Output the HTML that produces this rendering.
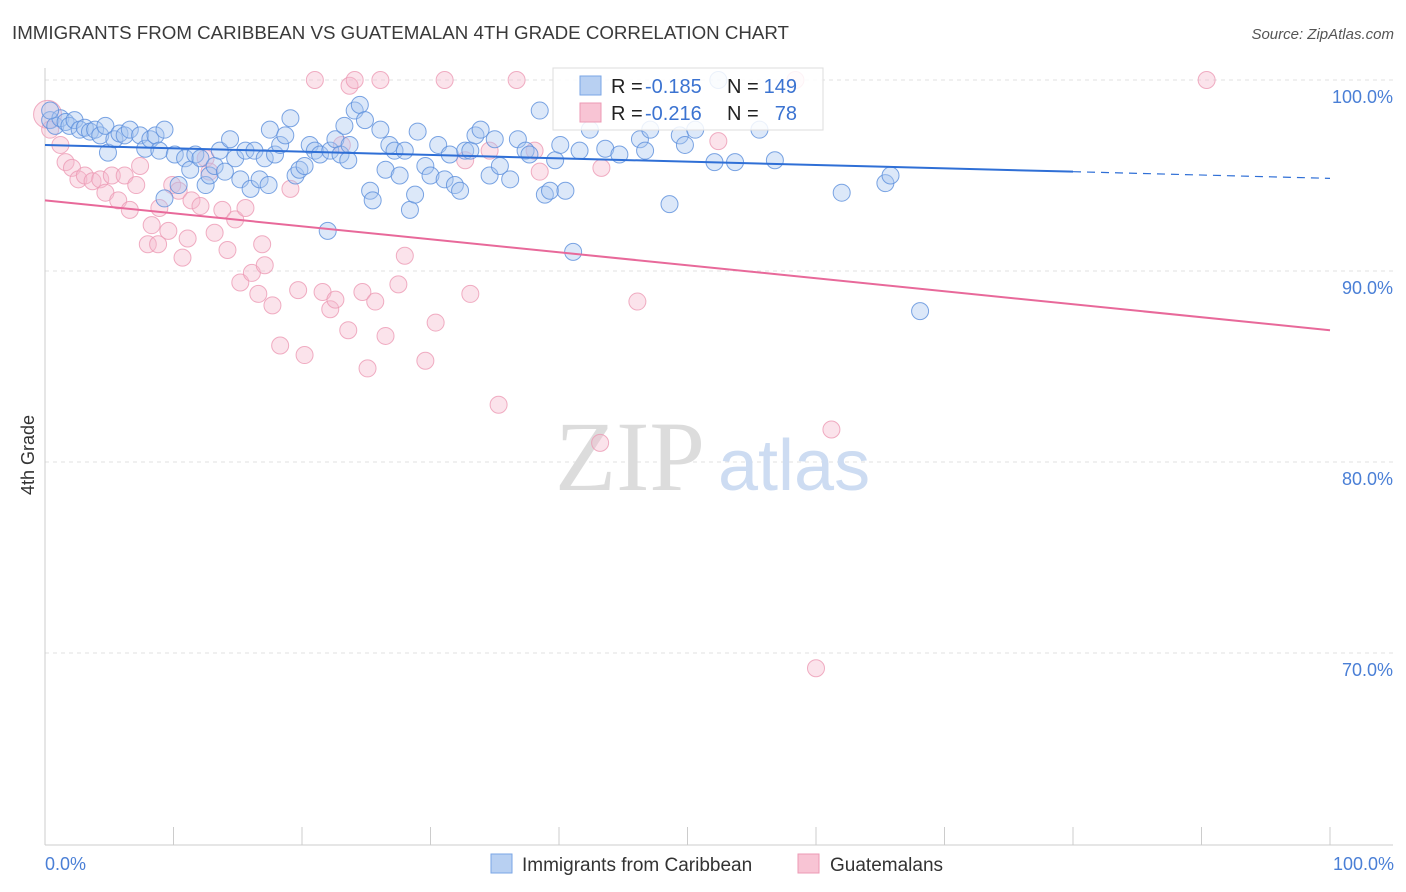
<!DOCTYPE html>
<html><head><meta charset="utf-8"><style>
body{margin:0;background:#fff;font-family:"Liberation Sans",sans-serif}
</style></head><body>
<svg width="1406" height="892" viewBox="0 0 1406 892" style="display:block">
<text x="12" y="39" font-size="18" fill="#3a3a3a" textLength="777" lengthAdjust="spacingAndGlyphs">IMMIGRANTS FROM CARIBBEAN VS GUATEMALAN 4TH GRADE CORRELATION CHART</text>
<text x="1394" y="39" font-size="15" fill="#555" text-anchor="end" font-style="italic">Source: ZipAtlas.com</text>
<g id="grid"></g>
<g id="axes"></g>
<text x="555" y="490" font-size="100" fill="#dcdcdc" font-family="Liberation Serif">ZIP</text>
<text x="718" y="490" font-size="72" fill="#cddcf2">atlas</text>
<g id="pts"></g>
<g id="lines"></g>
<text transform="translate(34,455) rotate(-90)" font-size="18" fill="#333" text-anchor="middle">4th Grade</text>
<text x="45" y="870" font-size="18" fill="#4a7fd6">0.0%</text>
<text x="1394" y="870" font-size="18" fill="#4a7fd6" text-anchor="end">100.0%</text>
<g>
<rect x="553" y="68" width="270" height="62" fill="#fff" fill-opacity="0.85" stroke="#ddd"/>
<rect x="580" y="76" width="21" height="19" fill="#b8d0f2" stroke="#7aa6e6"/>
<rect x="580" y="103" width="21" height="19" fill="#f8c4d4" stroke="#ec9ab4"/>
<text x="611" y="93" font-size="20" fill="#222">R =</text>
<text x="645" y="93" font-size="20" fill="#3b73d1">-0.185</text>
<text x="727" y="93" font-size="20" fill="#222">N =</text>
<text x="797" y="93" font-size="20" fill="#3b73d1" text-anchor="end">149</text>
<text x="611" y="120" font-size="20" fill="#222">R =</text>
<text x="645" y="120" font-size="20" fill="#3b73d1">-0.216</text>
<text x="727" y="120" font-size="20" fill="#222">N =</text>
<text x="797" y="120" font-size="20" fill="#3b73d1" text-anchor="end">78</text>
</g>
<g>
<rect x="491" y="854" width="21" height="19" fill="#b8d0f2" stroke="#7aa6e6"/>
<text x="522" y="871" font-size="19" fill="#333">Immigrants from Caribbean</text>
<rect x="798" y="854" width="21" height="19" fill="#f8c4d4" stroke="#ec9ab4"/>
<text x="830" y="871" font-size="19" fill="#333">Guatemalans</text>
</g>
</svg>
<script>
const yTicks=[100,90,80,70];
const yTickLabels=["100.0%","90.0%","80.0%","70.0%"];
const xTicks=[0,10,20,30,40,50,60,70,80,90,100];
const blueX=[0.4,0.8,1.2,1.6,1.9,2.3,2.7,3.1,3.5,3.9,4.3,4.7,4.9,5.4,5.8,6.2,6.6,7.4,7.8,8.2,8.6,8.9,9.3,9.3,10.1,10.4,10.9,11.3,11.7,12.1,12.5,12.8,13.2,13.6,14.0,14.4,14.8,15.2,15.6,16.0,16.3,16.7,17.1,17.4,17.5,17.9,18.3,18.7,19.1,19.5,19.8,20.2,20.6,21.0,21.4,22.0,22.2,22.6,23.0,23.3,23.6,23.7,24.1,24.5,24.9,25.3,25.5,26.1,26.5,26.8,27.2,27.6,28.0,28.4,28.8,29.0,29.6,30.0,30.6,31.1,31.5,31.9,32.3,32.7,33.1,33.5,33.9,34.6,35.0,35.4,36.2,36.8,37.4,37.7,38.5,38.9,39.3,39.7,40.1,40.5,41.1,41.6,42.4,43.6,44.7,46.3,46.7,47.1,48.6,49.4,49.8,50.6,52.1,53.7,55.6,56.8,62.0,65.4,65.8,68.1,52.4,0.4];
const blueY=[97.9,97.6,98.0,97.8,97.6,97.9,97.4,97.5,97.3,97.4,97.1,97.6,96.2,96.9,97.2,97.1,97.4,97.1,96.4,96.9,97.1,96.3,97.4,93.8,96.1,94.5,95.9,95.3,96.1,95.9,94.5,95.0,95.5,96.3,95.2,96.9,95.9,94.8,96.3,94.3,96.3,94.8,95.9,94.5,97.4,96.1,96.6,97.1,98.0,95.0,95.3,95.5,96.6,96.3,96.1,92.1,96.3,96.9,96.1,97.6,95.8,96.6,98.4,98.7,97.9,94.2,93.7,97.4,95.3,96.6,96.3,95.0,96.3,93.2,94.0,97.3,95.5,95.0,96.6,94.8,96.1,94.5,94.2,96.3,96.3,97.1,97.4,95.0,96.9,95.5,94.8,96.9,96.3,96.1,98.4,94.0,94.2,95.8,96.6,94.2,91.0,96.3,97.4,96.4,96.1,96.9,96.3,97.4,93.5,97.1,96.6,97.4,95.7,95.7,97.4,95.8,94.1,94.6,95.0,87.9,100,98.4];
const pinkX=[0.2,0.4,1.2,1.6,2.1,2.6,3.1,3.7,4.3,4.7,5.2,5.7,6.2,6.6,7.1,7.4,8.0,8.3,8.8,8.9,9.6,9.9,10.4,10.7,11.1,11.4,12.1,12.5,12.8,13.2,13.8,14.2,14.8,15.2,15.6,16.1,16.6,16.9,17.1,17.7,18.3,19.1,19.7,20.2,21.0,21.6,22.2,22.6,23.1,23.6,23.7,24.1,24.7,25.1,25.7,26.1,26.5,27.5,28.0,29.6,30.4,31.1,32.7,33.1,34.6,35.3,36.7,38.1,38.5,43.2,43.3,46.1,52.4,58.4,60.0,61.2,90.4];
const pinkY=[98.2,97.4,96.6,95.7,95.4,94.8,95.0,94.7,94.8,94.1,95.0,93.7,95.0,93.2,94.5,95.5,91.4,92.4,91.4,93.3,92.1,94.5,94.2,90.7,91.7,93.7,93.4,95.9,95.2,92.0,93.2,91.1,92.7,89.4,93.3,89.9,88.8,91.4,90.3,88.2,86.1,94.3,89.0,85.6,100,88.9,88.0,88.5,96.6,86.9,99.7,100,88.9,84.9,88.4,100,86.6,89.3,90.8,85.3,87.3,100,95.8,88.8,96.3,83.0,100,96.3,95.2,81.0,95.4,88.4,96.8,100,69.2,81.7,100];
const blueTrend=[96.6,94.85];
const pinkTrend=[93.7,86.9];
const NS="http://www.w3.org/2000/svg";
const X=v=>45+v*12.85, Y=v=>80+(100-v)*19.1;
function mk(t,a,p){const e=document.createElementNS(NS,t);for(const k in a)e.setAttribute(k,a[k]);p.appendChild(e);return e;}
const grid=document.getElementById('grid'),axes=document.getElementById('axes');
yTicks.forEach((v,i)=>{
 const l=mk('line',{x1:45,x2:1393,y1:Y(v),y2:Y(v),stroke:'#e2e2e2','stroke-dasharray':'4,4'},grid);
 
 
 const t=mk('text',{x:1393,y:Y(v)+23,'font-size':18,fill:'#4a7fd6','text-anchor':'end'},axes);
 t.textContent=yTickLabels[i];
 
 
});
mk('line',{x1:45,x2:45,y1:68,y2:845,stroke:'#ccc'},axes);
mk('line',{x1:45,x2:1393,y1:845,y2:845,stroke:'#ccc'},axes);
xTicks.forEach(v=>{const t=mk('line',{x1:X(v),x2:X(v),y1:827,y2:845,stroke:'#ccc'},axes);
 
 });
const pts=document.getElementById('pts');
pinkX.forEach((x,i)=>{const c=mk('circle',{cx:X(x),cy:Y(pinkY[i]),r:i==0?14:8.5,fill:'#f6b8cc','fill-opacity':0.4,stroke:'#ec9ab4','stroke-opacity':0.8},pts);
 
 });
blueX.forEach((x,i)=>{const c=mk('circle',{cx:X(x),cy:Y(blueY[i]),r:8.5,fill:'#a8c6f0','fill-opacity':0.4,stroke:'#5b8fdc','stroke-opacity':0.8},pts);
 
 });
const lines=document.getElementById('lines');
const bv=x=>blueTrend[0]+(blueTrend[1]-blueTrend[0])*x/100;
let l=mk('line',{x1:X(0),y1:Y(bv(0)),x2:X(80),y2:Y(bv(80)),stroke:'#2f6fd6','stroke-width':2},lines);


l=mk('line',{x1:X(80),y1:Y(bv(80)),x2:X(100),y2:Y(bv(100)),stroke:'#2f6fd6','stroke-width':1.2,'stroke-dasharray':'8,6'},lines);


l=mk('line',{x1:X(0),y1:Y(pinkTrend[0]),x2:X(100),y2:Y(pinkTrend[1]),stroke:'#e8699a','stroke-width':2},lines);


</script>
</body></html>
